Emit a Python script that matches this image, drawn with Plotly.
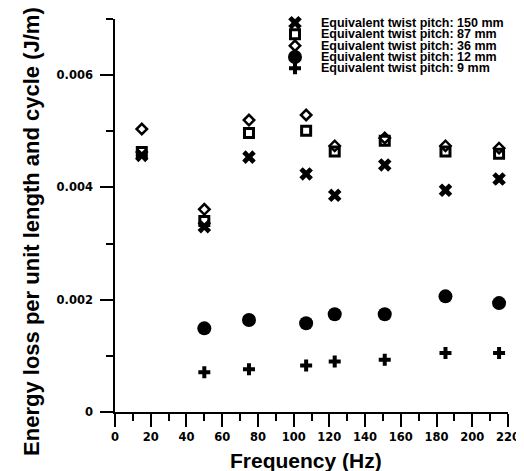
import plotly.graph_objects as go

freq = [15, 50, 75, 107, 123, 151, 185, 215]
pitch150 = [0.00457, 0.00330, 0.00454, 0.00424, 0.00386, 0.00440, 0.00395, 0.00415]
pitch87 = [0.00463, 0.00340, 0.00497, 0.00501, 0.00464, 0.00483, 0.00464, 0.00460]
pitch36 = [0.00504, 0.00361, 0.00520, 0.00529, 0.00474, 0.00488, 0.00474, 0.00470]
freq_low = [50, 75, 107, 123, 151, 185, 215]
pitch12 = [0.00149, 0.00164, 0.00158, 0.00174, 0.00174, 0.00206, 0.00194]
pitch9 = [0.00071, 0.00076, 0.00083, 0.00090, 0.00093, 0.00105, 0.00105]
labels = ["Equivalent twist pitch: 150 mm", "Equivalent twist pitch: 87 mm",
          "Equivalent twist pitch: 36 mm", "Equivalent twist pitch: 12 mm",
          "Equivalent twist pitch: 9 mm"]
x_ticks = list(range(0, 221, 20))
y_ticks = [0, 0.002, 0.004, 0.006]
y_ticktext = ["0", "0.002", "0.004", "0.006"]

FONT = "Liberation Sans, Arial, sans-serif"
TICKFONT = "DejaVu Sans, sans-serif"
styles = [
    dict(symbol="x", size=12, color="black", line=dict(width=0)),
    dict(symbol="square-open", size=9, color="black", line=dict(width=3, color="black")),
    dict(symbol="diamond-open", size=8, color="black", line=dict(width=2.5, color="black")),
    dict(symbol="circle", size=14, color="black", line=dict(width=0)),
    dict(symbol="cross", size=10, color="black", line=dict(width=0)),
]
series = [(freq, pitch150), (freq, pitch87), (freq, pitch36), (freq_low, pitch12), (freq_low, pitch9)]

fig = go.Figure()
for (xs, ys), st, lab in zip(series, styles, labels):
    fig.add_trace(go.Scatter(x=xs, y=ys, mode="markers", marker=st, name=lab,
                             showlegend=False, cliponaxis=False))

# compact legend: symbols on a hidden overlay axis, labels as annotations
leg_y = [0.9906, 0.9613, 0.932, 0.9033, 0.8746]
leg_x = 0.458
for st, ly in zip(styles, leg_y):
    fig.add_trace(go.Scatter(x=[leg_x], y=[ly], mode="markers", marker=st,
                             xaxis="x2", yaxis="y2", showlegend=False,
                             cliponaxis=False, hoverinfo="skip"))
for lab, ly in zip(labels, leg_y):
    fig.add_annotation(x=0.522, y=ly, xref="paper", yref="paper", text=lab,
                       showarrow=False, xanchor="left", yanchor="middle", borderpad=0,
                       font=dict(family=FONT, size=12.5, color="black", weight="bold"))

fig.add_annotation(x=-0.212, y=0.46, xref="paper", yref="paper",
                   text="Energy loss per unit length and cycle (J/m)",
                   textangle=-90, showarrow=False, xanchor="center", yanchor="middle",
                   font=dict(family=FONT, size=22, color="black", weight="bold"))
fig.add_annotation(x=0.486, y=-0.091, xref="paper", yref="paper",
                   text="Frequency (Hz)", showarrow=False,
                   xanchor="center", yanchor="top", borderpad=0,
                   font=dict(family=FONT, size=21, color="black", weight="bold"))

axis_common = dict(showline=True, linecolor="black", linewidth=1.5, ticks="outside",
                   tickcolor="black", tickwidth=1.5, ticklen=13, showgrid=False,
                   zeroline=False, mirror=False, automargin=False,
                   tickfont=dict(family=TICKFONT, size=11.5, color="black", weight="bold"))
# the page body adds an 8px offset, so the figure is 8px smaller with reduced left/top margins
fig.update_layout(
    width=516, height=463, margin=dict(l=107, r=16, t=11, b=59),
    paper_bgcolor="white", plot_bgcolor="white",
    font=dict(family=FONT, color="black"),
    xaxis=dict(range=[0, 220], tickvals=x_ticks,
               minor=dict(dtick=10, tick0=0, ticks="outside", ticklen=7, tickcolor="black", tickwidth=1.5),
               **axis_common),
    yaxis=dict(range=[0, 0.007], tickvals=y_ticks, ticktext=y_ticktext, ticklabelstandoff=5,
               minor=dict(dtick=0.001, tick0=0, ticks="outside", ticklen=7, tickcolor="black", tickwidth=1.5),
               **axis_common),
    xaxis2=dict(overlaying="x", range=[0, 1], visible=False),
    yaxis2=dict(overlaying="y", range=[0, 1], visible=False),
    showlegend=False,
)
fig.write_html("out.html")
